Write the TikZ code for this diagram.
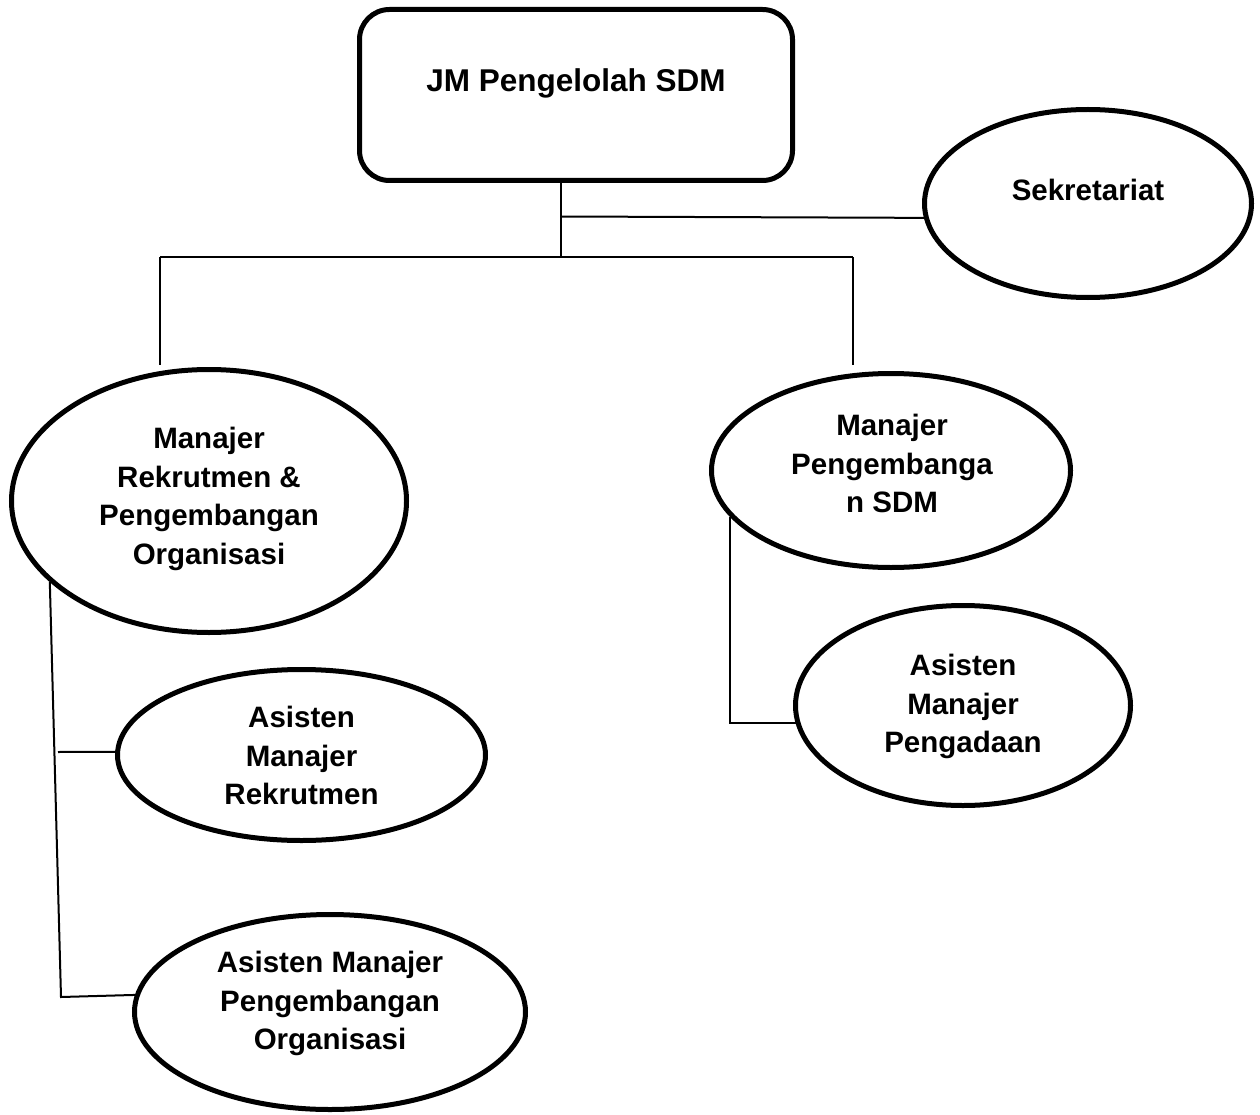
\documentclass[tikz,border=0pt]{standalone}
\usepackage{fontspec}
\setmainfont{Liberation Sans}
\usetikzlibrary{shapes.geometric}
\tikzset{
  oval/.style={draw, ellipse, line width=5pt, inner sep=0pt},
  boxshape/.style={draw, rounded corners=30pt, line width=5pt, inner sep=0pt},
  lbl/.style={font=\fontsize{29.5pt}{38.5pt}\selectfont\bfseries, align=center, inner sep=0pt, anchor=north},
  conn/.style={line width=2pt},
}
\begin{document}
\begin{tikzpicture}[x=1pt,y=-1pt]
\useasboundingbox[fill=white] (0,0) rectangle (1260,1115);

% shapes
\node[boxshape, minimum width=433pt, minimum height=171pt] (jm) at (576,95) {};
\node[oval, minimum width=327pt, minimum height=188pt] (sek) at (1088,203.5) {};
\node[oval, minimum width=395pt, minimum height=263pt] (mrek) at (209,501) {};
\node[oval, minimum width=359pt, minimum height=194pt] (mpsdm) at (891,470.5) {};
\node[oval, minimum width=368pt, minimum height=171pt] (arek) at (301.5,755) {};
\node[oval, minimum width=335pt, minimum height=200pt] (apeng) at (963,705.5) {};
\node[oval, minimum width=391pt, minimum height=195pt] (aorg) at (330,1012) {};

% texts
\node[lbl, font=\fontsize{31.5pt}{38.5pt}\selectfont\bfseries] (jmt) at (576,68.5) {JM Pengelolah SDM};
\node[lbl] (sekt) at (1088,179) {Sekretariat};
\node[lbl] (mrekt) at (209,427) {Manajer\\Rekrutmen \&\\Pengembangan\\Organisasi};
\node[lbl] (mpsdmt) at (892,414) {Manajer\\Pengembanga\\n SDM};
\node[lbl] (arekt) at (301.5,706) {Asisten\\Manajer\\Rekrutmen};
\node[lbl] (apengt) at (963,654) {Asisten\\Manajer\\Pengadaan};
\node[lbl] (aorgt) at (330,951) {Asisten Manajer\\Pengembangan\\Organisasi};

% junction coordinates
\coordinate (j0) at (561,216.5);
\coordinate (j1) at (561,257.5);
\coordinate (hl) at (160,257.5);
\coordinate (hr) at (853,257.5);
\coordinate (lv) at (160,365);
\coordinate (rv) at (853,365);
\coordinate (lb) at (61,997);
\coordinate (lm) at (58,752);

% connectors
\draw[conn] (jm.south -| j0) -- (j1);
\draw[conn] (j0) -- (sek.185);
\draw[conn] (hl) -- (hr);
\draw[conn] (hl) -- (lv);
\draw[conn] (hr) -- (rv);
\draw[conn] (mrek.207) -- (lb) -- (aorg.175.6);
\draw[conn] (lm) -- (arek.179);
\draw[conn] (mpsdm.196) |- (apeng.186.7);
\end{tikzpicture}
\end{document}
